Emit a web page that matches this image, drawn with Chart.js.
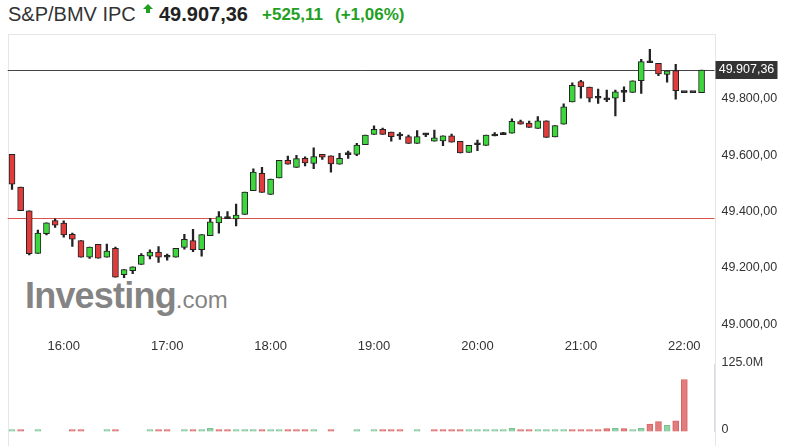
<!DOCTYPE html>
<html>
<head>
<meta charset="utf-8">
<script src="https://cdn.jsdelivr.net/npm/chart.js@4.4.0/dist/chart.umd.min.js"></script>
<style>
  body { margin: 0; background: #fff; font-family: 'Liberation Sans', Arial, sans-serif; }
  #wrap { position: relative; width: 790px; height: 446px; overflow: hidden; background: #fff; }
  .hdr { position: absolute; line-height: 1; white-space: nowrap; }
  #name { left: 8px; top: 3.5px; font-size: 20px; color: #333; }
  #last { left: 159px; top: 3.6px; font-size: 20px; font-weight: bold; color: #222; }
  #chg { left: 262px; top: 6px; font-size: 17px; font-weight: bold; color: #23a023; }
  #pct { left: 335px; top: 6px; font-size: 17px; font-weight: bold; color: #23a023; }
  #arrow { position: absolute; left: 143px; top: 4px; width: 0; height: 0;
    border-left: 5px solid transparent; border-right: 5px solid transparent; border-bottom: 5px solid #23a023; }
  #arrowStem { position: absolute; left: 146px; top: 9px; width: 4px; height: 4px; background: #23a023; }
  #frame { position: absolute; left: 8px; top: 34px; width: 708px; height: 420px; box-sizing: border-box;
    border: 1px solid #e6e6e6; border-bottom: none; }
  #mark { position: absolute; left: 25px; top: 278px; line-height: 1; color: rgba(110,110,110,0.85); white-space: nowrap; }
  #mark b { font-size: 36px; font-weight: bold; letter-spacing: -0.8px; }
  #mark span { font-size: 24px; }
  canvas { position: absolute; left: 0; }
  #priceChart { top: 30px; }
  #volChart { top: 350px; }
</style>
</head>
<body>
<div id="wrap">
  <div class="hdr" id="name">S&amp;P/BMV IPC</div>
  <div id="arrow"></div><div id="arrowStem"></div>
  <div class="hdr" id="last">49.907,36</div>
  <div class="hdr" id="chg">+525,11</div>
  <div class="hdr" id="pct">(+1,06%)</div>
  <div id="frame"></div>
  <div id="mark"><b>Investing</b><span>.com</span></div>
  <canvas id="priceChart" width="790" height="330"></canvas>
  <canvas id="volChart" width="790" height="96"></canvas>
</div>
<script>
// 5 minute candles, 15:30 .. 22:10
var opens = [49608,49492,49408,49257,49327,49373,49364,49324,49302,49243,
  49289,49243,49275,49181,49195,49218,49247,49261,49243,49243,
  49278,49302,49270,49320,49365,49380,49379,49395,49479,49541,
  49466,49524,49587,49562,49594,49576,49608,49603,49573,49607,
  49608,49642,49679,49697,49687,49673,49671,49647,49677,49655,
  49656,49674,49654,49615,49642,49640,49673,49678,49683,49724,
  49719,49700,49727,49670,49715,49794,49866,49847,49807,49801,
  49807,49828,49828,49869,49933,49931,49892,49905,49827,49827,
  49827];
var highs = [49608,49492,49408,49339,49365,49379,49372,49329,49302,49279,
  49289,49290,49279,49199,49209,49256,49269,49281,49254,49275,
  49324,49342,49323,49381,49405,49405,49432,49474,49557,49562,
  49520,49587,49602,49605,49599,49631,49608,49603,49612,49620,
  49647,49676,49709,49701,49687,49685,49676,49692,49683,49694,
  49674,49680,49654,49640,49659,49676,49685,49686,49734,49730,
  49726,49742,49727,49710,49787,49862,49871,49847,49840,49836,
  49836,49848,49869,49945,49981,49931,49904,49927,49827,49827,
  49907.36];
var lows = [49484,49408,49251,49257,49322,49349,49314,49281,49243,49239,
  49240,49243,49172,49171,49185,49218,49237,49225,49233,49243,
  49272,49263,49247,49320,49328,49380,49354,49395,49479,49473,
  49466,49524,49573,49562,49567,49557,49590,49545,49573,49594,
  49603,49642,49679,49679,49655,49661,49647,49647,49671,49655,
  49639,49651,49613,49615,49621,49640,49673,49678,49683,49715,
  49704,49700,49668,49670,49715,49794,49807,49794,49789,49795,
  49744,49795,49828,49824,49933,49887,49864,49804,49827,49827,
  49827];
var closes = [49502,49408,49256,49329,49365,49357,49322,49307,49243,49279,
  49240,49265,49172,49199,49209,49250,49261,49243,49243,49275,
  49307,49270,49323,49369,49387,49380,49393,49474,49545,49473,
  49520,49587,49573,49593,49578,49600,49598,49574,49594,49607,
  49641,49676,49697,49679,49671,49673,49647,49671,49677,49667,
  49674,49651,49613,49640,49642,49676,49673,49678,49725,49715,
  49704,49727,49668,49710,49777,49853,49847,49807,49807,49801,
  49830,49828,49869,49937,49933,49893,49904,49834,49827,49827,
  49907.36];
// volume in millions, 0 = no bar
var volumes = [3.5,3.5,0,3.5,0,0,0,3.5,3.5,0,
  0,3.5,3.5,0,0,0,3.5,3.5,3.5,0,
  3.5,3.5,3.5,6,3.5,3.5,3.5,3.5,3.5,3.5,
  3.5,3.5,3.5,3.5,3.5,3.5,0,3.5,0,0,
  3.5,0,3.5,3.5,3.5,3.5,0,3.5,0,3.5,
  3.5,3.5,3.5,3.5,3.5,3.5,3.5,3.5,6,3.5,
  3.5,3.5,3.5,3.5,3.5,3.5,3.5,3.5,3.5,5.5,
  6,5.5,3.5,6,14,18.5,11.5,20,97,0,
  0];
// 1 = green volume bar, 0 = red
var volUp = [1,0,0,1,0,0,0,0,0,0,
  0,1,0,0,0,0,1,0,0,0,
  1,0,1,1,0,0,1,1,1,0,
  1,1,0,0,0,1,0,0,0,0,
  1,0,1,0,0,0,0,1,0,0,
  0,0,0,1,1,1,1,1,1,0,
  0,1,1,1,1,0,0,0,0,0,
  1,0,1,1,0,0,1,0,0,0,
  0];
var hourTicks = ['16:00','17:00','18:00','19:00','20:00','21:00','22:00'];
var priceTicks = [49000, 49200, 49400, 49600, 49800];
var volTicks = [0, 125];
var prevClose = 49382.25;
var lastPrice = 49907.36;

var green = '#3dd63d', red = '#e03c3c', dark = '#222';
var fontFam = "'Liberation Sans', Arial, sans-serif";

function pad(n) { return n < 10 ? '0' + n : '' + n; }
var times = [];
for (var i = 0; i < 82; i++) {
  var m = 15 * 60 + 30 + i * 5;
  times.push(pad(Math.floor(m / 60)) + ':' + pad(m % 60));
}

function fmtPrice(v) {
  var parts = v.toFixed(2).split('.');
  return parts[0].replace(/\B(?=(\d{3})+(?!\d))/g, '.') + ',' + parts[1];
}

var refLines = {
  id: 'refLines',
  beforeDatasetsDraw: function (chart) {
    var ctx = chart.ctx, a = chart.chartArea, y = chart.scales.y;
    ctx.save();
    var yp = Math.round(y.getPixelForValue(prevClose)) + 0.5;
    ctx.strokeStyle = '#d9534f';
    ctx.lineWidth = 1;
    ctx.beginPath(); ctx.moveTo(a.left, yp); ctx.lineTo(a.right, yp); ctx.stroke();
    var yl = Math.round(y.getPixelForValue(lastPrice)) + 0.5;
    ctx.strokeStyle = '#444';
    ctx.beginPath(); ctx.moveTo(a.left, yl); ctx.lineTo(a.right, yl); ctx.stroke();
    ctx.restore();
  },
  afterDraw: function (chart) {
    var ctx = chart.ctx, a = chart.chartArea, y = chart.scales.y;
    var yl = Math.round(y.getPixelForValue(lastPrice));
    ctx.save();
    ctx.fillStyle = '#333';
    ctx.fillRect(a.right + 1, yl - 9, 62, 18);
    ctx.fillStyle = '#fff';
    ctx.font = '12.5px ' + fontFam;
    ctx.textAlign = 'center';
    ctx.textBaseline = 'middle';
    ctx.fillText(fmtPrice(lastPrice), a.right + 32, yl);
    ctx.restore();
  }
};

var priceChart = new Chart(document.getElementById('priceChart').getContext('2d'), {
  type: 'bar',
  data: {
    labels: times,
    datasets: [{
      label: 'body',
      data: opens.map(function (o, i) { return [o, closes[i]]; }),
      grouped: false,
      barThickness: 6,
      minBarLength: 2,
      borderWidth: 1,
      borderSkipped: false,
      borderColor: dark,
      backgroundColor: function (c) {
        var i = c.dataIndex;
        if (opens[i] === closes[i]) return dark;
        return closes[i] > opens[i] ? green : red;
      },
      order: 0
    }, {
      label: 'wick',
      data: lows.map(function (l, i) { return [l, highs[i]]; }),
      grouped: false,
      barThickness: 1.6,
      borderWidth: 0,
      backgroundColor: dark,
      order: 1
    }]
  },
  options: {
    responsive: false,
    animation: false,
    events: [],
    devicePixelRatio: 1,
    layout: { padding: { left: 7.7, top: 16, right: 0, bottom: 0 } },
    plugins: { legend: { display: false }, tooltip: { enabled: false } },
    scales: {
      x: {
        grid: { display: false, drawTicks: false },
        border: { display: false },
        afterFit: function (s) { s.height = 25; },
        ticks: {
          autoSkip: false,
          maxRotation: 0,
          minRotation: 0,
          padding: 4,
          color: '#333',
          font: { size: 13, family: fontFam },
          callback: function (v, i) {
            var t = times[i];
            return hourTicks.indexOf(t) >= 0 ? t : '';
          }
        }
      },
      y: {
        position: 'right',
        min: 48967.2,
        max: 49992.4,
        grid: { display: false, drawTicks: false },
        border: { display: false },
        afterFit: function (s) { s.width = 75.5; },
        afterBuildTicks: function (s) {
          s.ticks = priceTicks.map(function (v) { return { value: v }; });
        },
        ticks: {
          padding: 7,
          labelOffset: -1.5,
          color: '#333',
          font: { size: 12.5, family: fontFam },
          callback: function (v) { return fmtPrice(v); }
        }
      }
    }
  },
  plugins: [refLines]
});

var volChart = new Chart(document.getElementById('volChart').getContext('2d'), {
  type: 'bar',
  data: {
    labels: times,
    datasets: [{
      label: 'volume',
      data: volumes.map(function (v) { return v > 0 ? v : null; }),
      barThickness: 6,
      borderWidth: 1,
      borderSkipped: false,
      backgroundColor: function (c) { return volUp[c.dataIndex] ? '#93d3aa' : '#e37c7c'; },
      borderColor: function (c) { return volUp[c.dataIndex] ? '#78c092' : '#d66464'; }
    }]
  },
  options: {
    responsive: false,
    animation: false,
    events: [],
    devicePixelRatio: 1,
    layout: { padding: { left: 7.7, top: 11, right: 0, bottom: 13 } },
    plugins: { legend: { display: false }, tooltip: { enabled: false } },
    scales: {
      x: { display: false },
      y: {
        position: 'right',
        min: 0,
        max: 125,
        grid: { display: false, drawTicks: false },
        border: { display: true, color: '#d3dae4', width: 1 },
        afterFit: function (s) { s.width = 75.5; },
        afterBuildTicks: function (s) {
          s.ticks = volTicks.map(function (v) { return { value: v }; });
        },
        ticks: {
          padding: 7,
          labelOffset: -1.5,
          color: '#333',
          font: { size: 12.5, family: fontFam },
          callback: function (v) { return v === 0 ? '0' : v.toFixed(1) + 'M'; }
        }
      }
    }
  }
});
</script>
</body>
</html>
